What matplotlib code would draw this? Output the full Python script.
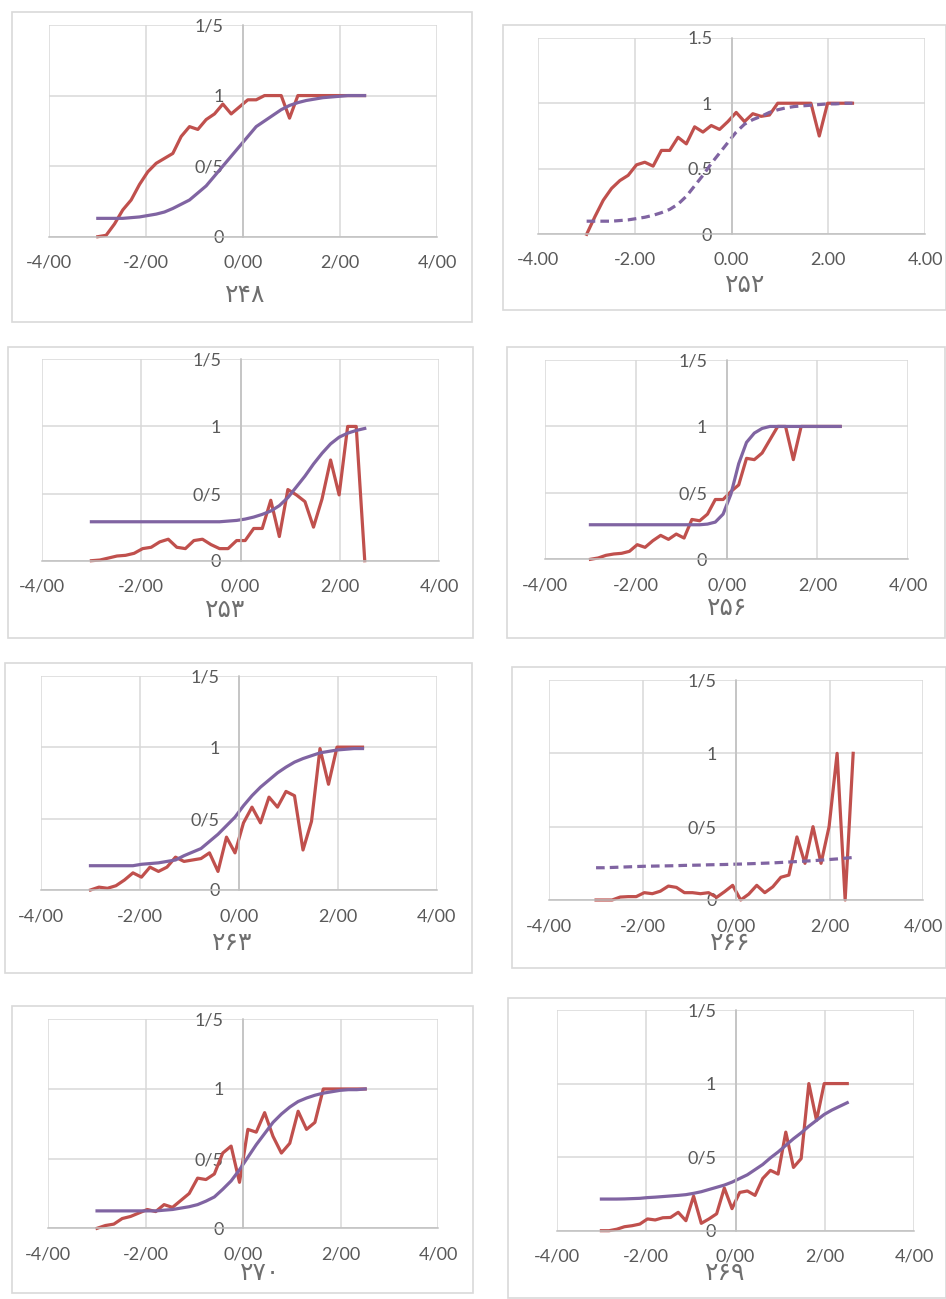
import numpy as np
import matplotlib.pyplot as plt
from matplotlib.patches import Rectangle

W, H = 946, 1299

# ability grid shared by all items (33 points from -3 to 2.5)
theta = np.linspace(-3.0, 2.5, 33)

red_248 = [0, 0.01, 0.09, 0.19, 0.26, 0.37, 0.46, 0.52, 0.555, 0.59, 0.71, 0.78, 0.76, 0.83, 0.87, 0.94,
           0.87, 0.92, 0.97, 0.97, 1, 1, 1, 0.84, 1, 1, 1, 1, 1, 1, 1, 1, 1]
fit_248 = [0.13, 0.13, 0.13, 0.13, 0.135, 0.14, 0.15, 0.16, 0.175, 0.20, 0.23, 0.26, 0.31, 0.36, 0.43, 0.50,
           0.57, 0.64, 0.71, 0.78, 0.82, 0.86, 0.90, 0.93, 0.95, 0.965, 0.975, 0.985, 0.99, 0.995, 1, 1, 1]

red_252 = [0, 0.135, 0.26, 0.35, 0.41, 0.45, 0.53, 0.55, 0.52, 0.64, 0.64, 0.74, 0.69, 0.82, 0.78, 0.83,
           0.80, 0.86, 0.93, 0.86, 0.92, 0.90, 0.91, 1, 1, 1, 1, 1, 0.75, 1, 1, 1, 1]
fit_252 = [0.10, 0.10, 0.10, 0.10, 0.105, 0.11, 0.12, 0.13, 0.145, 0.165, 0.19, 0.23, 0.29, 0.37, 0.45, 0.54,
           0.62, 0.70, 0.78, 0.84, 0.875, 0.90, 0.93, 0.95, 0.965, 0.975, 0.98, 0.985, 0.99, 0.995, 0.995, 1, 1]

red_253 = [0, 0.005, 0.02, 0.035, 0.04, 0.055, 0.09, 0.10, 0.14, 0.16, 0.10, 0.09, 0.15, 0.16, 0.12, 0.09,
           0.09, 0.15, 0.15, 0.24, 0.24, 0.45, 0.18, 0.53, 0.49, 0.44, 0.25, 0.46, 0.75, 0.49, 1, 1, 0]
fit_253 = [0.29, 0.29, 0.29, 0.29, 0.29, 0.29, 0.29, 0.29, 0.29, 0.29, 0.29, 0.29, 0.29, 0.29, 0.29, 0.29,
           0.295, 0.30, 0.31, 0.325, 0.345, 0.37, 0.41, 0.47, 0.55, 0.63, 0.72, 0.80, 0.87, 0.92, 0.95, 0.97, 0.985]

red_256 = [0, 0.01, 0.03, 0.04, 0.045, 0.06, 0.11, 0.09, 0.14, 0.18, 0.15, 0.19, 0.16, 0.30, 0.29, 0.34,
           0.45, 0.45, 0.51, 0.56, 0.76, 0.75, 0.80, 0.90, 1, 1, 0.75, 1, 1, 1, 1, 1, 1]
fit_256 = [0.26, 0.26, 0.26, 0.26, 0.26, 0.26, 0.26, 0.26, 0.26, 0.26, 0.26, 0.26, 0.26, 0.26, 0.26, 0.265,
           0.28, 0.34, 0.49, 0.72, 0.88, 0.95, 0.985, 1, 1, 1, 1, 1, 1, 1, 1, 1, 1]

red_263 = [0, 0.02, 0.012, 0.03, 0.07, 0.12, 0.09, 0.16, 0.13, 0.16, 0.23, 0.20, 0.21, 0.22, 0.26, 0.13,
           0.37, 0.26, 0.47, 0.58, 0.47, 0.65, 0.58, 0.69, 0.66, 0.28, 0.48, 0.99, 0.74, 1, 1, 1, 1]
fit_263 = [0.17, 0.17, 0.17, 0.17, 0.17, 0.17, 0.18, 0.185, 0.19, 0.20, 0.21, 0.24, 0.265, 0.29, 0.34, 0.39,
           0.45, 0.51, 0.59, 0.66, 0.72, 0.77, 0.82, 0.86, 0.895, 0.92, 0.94, 0.96, 0.97, 0.98, 0.985, 0.99, 0.99]

red_266 = [0, 0, 0, 0.02, 0.023, 0.023, 0.05, 0.043, 0.06, 0.095, 0.086, 0.05, 0.05, 0.043, 0.05, 0.018,
           0.057, 0.10, 0, 0.04, 0.10, 0.05, 0.09, 0.155, 0.17, 0.43, 0.25, 0.50, 0.25, 0.50, 1, 0, 1]
fit_266 = [0.22, 0.22, 0.222, 0.224, 0.226, 0.228, 0.23, 0.231, 0.232, 0.233, 0.234, 0.236, 0.237, 0.238,
           0.24, 0.241, 0.242, 0.244, 0.245, 0.247, 0.249, 0.251, 0.253, 0.256, 0.259, 0.262, 0.265, 0.268,
           0.272, 0.276, 0.28, 0.285, 0.29]

red_270 = [0, 0.02, 0.03, 0.07, 0.085, 0.11, 0.135, 0.12, 0.17, 0.15, 0.20, 0.25, 0.36, 0.35, 0.39, 0.54,
           0.59, 0.33, 0.71, 0.69, 0.83, 0.66, 0.54, 0.61, 0.84, 0.71, 0.76, 1, 1, 1, 1, 1, 1]
fit_270 = [0.125, 0.125, 0.125, 0.125, 0.125, 0.125, 0.125, 0.125, 0.13, 0.135, 0.145, 0.155, 0.17, 0.195,
           0.225, 0.28, 0.34, 0.42, 0.51, 0.60, 0.68, 0.76, 0.82, 0.87, 0.91, 0.935, 0.955, 0.97, 0.98, 0.99,
           0.995, 0.995, 1]

red_269 = [0, 0, 0.01, 0.027, 0.034, 0.045, 0.08, 0.073, 0.088, 0.09, 0.125, 0.068, 0.235, 0.05, 0.08, 0.115,
           0.29, 0.15, 0.26, 0.27, 0.24, 0.355, 0.41, 0.385, 0.67, 0.43, 0.49, 1, 0.75, 1, 1, 1, 1]
fit_269 = [0.215, 0.215, 0.215, 0.216, 0.218, 0.22, 0.225, 0.228, 0.232, 0.236, 0.24, 0.245, 0.254, 0.265,
           0.28, 0.295, 0.31, 0.33, 0.355, 0.38, 0.415, 0.45, 0.495, 0.535, 0.58, 0.625, 0.665, 0.71, 0.75,
           0.79, 0.82, 0.845, 0.87]

x_ticks = [-4, -2, 0, 2, 4]
y_ticks = [0, 0.5, 1, 1.5]
xlab_slash = ['-4/00', '-2/00', '0/00', '2/00', '4/00']
ylab_slash = ['0', '0/5', '1', '1/5']
xlab_dot = ['-4.00', '-2.00', '0.00', '2.00', '4.00']
ylab_dot = ['0', '0.5', '1', '1.5']

# pixel layout: plot area (x=-4, x=4, y=1.5, y=0), outer box, title x (data), title drop (px)
panels = [
    ('۲۴۸', red_248, fit_248, False, (49.3, 437.3, 25, 236.7), (12, 12, 472, 322), 0.03, 58),
    ('۲۵۲', red_252, fit_252, True, (538.3, 925, 37.7, 234.3), (503, 25, 946, 310), 0.28, 51),
    ('۲۵۳', red_253, fit_253, False, (41.7, 439.3, 359.3, 560.7), (8, 347, 473, 638), -0.31, 49),
    ('۲۵۶', red_256, fit_256, False, (545, 908.3, 360, 559.3), (507, 347, 945, 638), 0.02, 49),
    ('۲۶۳', red_263, fit_263, False, (41, 436.7, 675.7, 890), (5, 663, 472, 973), -0.14, 53),
    ('۲۶۶', red_266, fit_266, False, (549.3, 923.3, 680, 900), (512, 667, 946, 968), -0.13, 43),
    ('۲۷۰', red_270, fit_270, False, (48.3, 438.3, 1019.3, 1228.3), (12, 1006, 473, 1293), 0.34, 45),
    ('۲۶۹', red_269, fit_269, False, (556.7, 914.3, 1010, 1230.7), (508, 998, 946, 1298), -0.23, 42),
]
dashed_items = ['۲۶۶', '۲۵۲']

fig = plt.figure(figsize=(W / 100, H / 100), dpi=100)
fig.patch.set_facecolor('white')

tick_font = ['Lato', 'DejaVu Sans']
grey = '#595959'

for title, red, fit, dot_fmt, (xl, xr, yt, yb), (bx0, by0, bx1, by1), tx, tdrop in panels:
    fig.add_artist(Rectangle((bx0 / W, 1 - by1 / H), (bx1 - bx0) / W, (by1 - by0) / H,
                             transform=fig.transFigure, fill=False, ec='#d9d9d9', lw=1.2))
    ax = fig.add_axes([xl / W, 1 - yb / H, (xr - xl) / W, (yb - yt) / H])
    ax.set_xlim(-4, 4)
    ax.set_ylim(0, 1.5)
    ax.set_axisbelow(True)
    ax.grid(True, color='#d9d9d9', lw=1.1)
    for s in ['top', 'right']:
        ax.spines[s].set_visible(False)
    ax.spines['left'].set_position(('data', 0))
    ax.spines['left'].set_color('#bfbfbf')
    ax.spines['bottom'].set_color('#bfbfbf')
    ax.spines['left'].set_linewidth(1.1)
    ax.spines['bottom'].set_linewidth(1.1)

    ax.set_xticks(x_ticks, xlab_dot if dot_fmt else xlab_slash)
    ax.set_yticks(y_ticks, ylab_dot if dot_fmt else ylab_slash)
    ax.tick_params(axis='both', length=0, labelsize=13, labelcolor=grey)
    ax.tick_params(axis='x', pad=13)
    ax.tick_params(axis='y', pad=14)
    for lab in ax.get_xticklabels() + ax.get_yticklabels():
        lab.set_family(tick_font)

    ax.plot(theta, red, color='#C0504D', lw=2.3, solid_joinstyle='round', clip_on=False)
    if title in dashed_items:
        ax.plot(theta, fit, color='#8064A2', lw=2.3, dashes=(2.7, 1.6), clip_on=False)
    else:
        ax.plot(theta, fit, color='#8064A2', lw=2.3, solid_joinstyle='round', clip_on=False)

    ax.annotate(title, xy=(tx, 0), xycoords=('data', 'axes fraction'),
                xytext=(0, -tdrop * 0.72), textcoords='offset points',
                ha='center', va='center', fontsize=18, color='#6f6f6f',
                family=['DejaVu Sans', 'Noto Sans'])

fig.savefig('out.png', dpi=100, facecolor='white')
